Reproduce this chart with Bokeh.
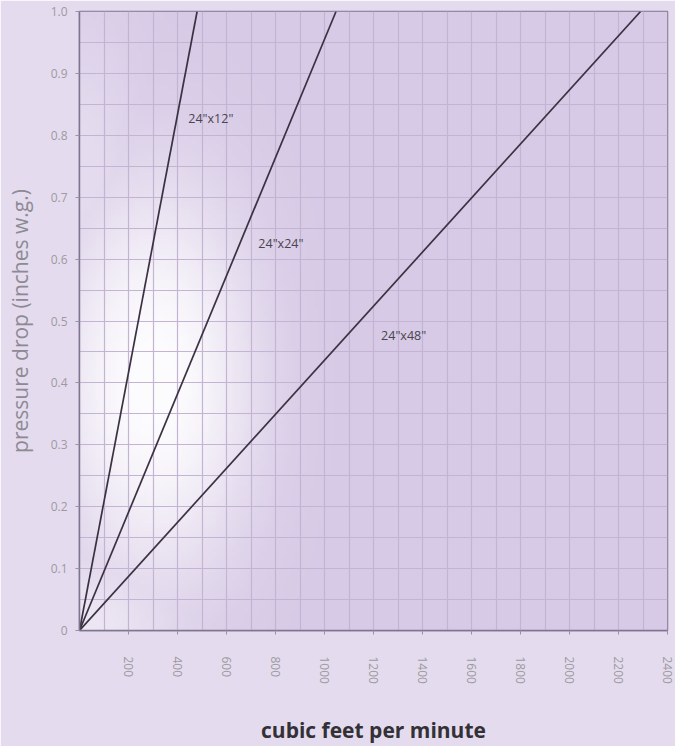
import numpy as np
from bokeh.plotting import figure
from bokeh.models import FixedTicker, Range1d, ColumnDataSource
from bokeh.embed import file_html
from bokeh.resources import INLINE
from bokeh.core.properties import value

# ---- data ----
cfm_24x12 = [0, 480]
cfm_24x24 = [0, 1047]
cfm_24x48 = [0, 2290]
pressure_drop = [0, 1.0]

series_names = ['24"x12"', '24"x24"', '24"x48"']
label_cfm = [444, 730, 1231]
label_pd = [0.827, 0.625, 0.477]

x_tick_values = [200, 400, 600, 800, 1000, 1200, 1400, 1600, 1800, 2000, 2200, 2400]
x_grid_values = list(range(0, 2401, 100))
y_tick_values = [0, 0.1, 0.2, 0.3, 0.4, 0.5, 0.6, 0.7, 0.8, 0.9, 1.0]
y_tick_labels = ["0", "0.1", "0.2", "0.3", "0.4", "0.5", "0.6", "0.7", "0.8", "0.9", "1.0"]
y_grid_values = [0, 0.05, 0.1, 0.15, 0.2, 0.25, 0.3, 0.35, 0.4, 0.45, 0.5,
                 0.55, 0.6, 0.65, 0.7, 0.75, 0.8, 0.85, 0.9, 0.95, 1.0]

X_MIN, X_MAX = 0, 2400
Y_MIN, Y_MAX = 0, 1.0

FONT = "Open Sans"
FRAME = "#7f7590"
GRID = "#c3b4d3"

p = figure(width=675, height=746, output_backend="svg", toolbar_location=None,
           x_range=Range1d(X_MIN, X_MAX), y_range=Range1d(Y_MIN, Y_MAX),
           min_border_left=79, min_border_right=8, min_border_top=11,
           min_border_bottom=116)

p.background_fill_color = "#d8cbe6"
p.border_fill_color = "#e4dcee"
p.outline_line_color = FRAME
p.outline_line_width = 1.5

# soft white "cloud" background inside the frame (decoration only)
ny, nx = 150, 150
gx = np.linspace(X_MIN, X_MAX, nx)
gy = np.linspace(Y_MIN, Y_MAX, ny)
GX, GY = np.meshgrid(gx, gy)
d = ((GX - 300) / 420) ** 2 + ((GY - 0.40) / 0.33) ** 2
w = np.exp(-d ** 1.2) * 0.95
d2 = ((GX - 0) / 450) ** 2 + ((GY - 0.0) / 0.14) ** 2
w = np.maximum(w, np.exp(-d2) * 0.55)
d3 = ((GX - 0) / 250) ** 2 + ((GY - 0.75) / 0.25) ** 2
w = np.maximum(w, np.exp(-d3) * 0.35)
base = np.array([215, 202, 230], dtype=float)
rgb = base[None, None, :] * (1 - w[..., None]) + 255 * w[..., None]
img = np.zeros((ny, nx), dtype=np.uint32)
view = img.view(dtype=np.uint8).reshape((ny, nx, 4))
view[..., 0] = rgb[..., 0].astype(np.uint8)
view[..., 1] = rgb[..., 1].astype(np.uint8)
view[..., 2] = rgb[..., 2].astype(np.uint8)
view[..., 3] = 255
p.image_rgba(image=[img], x=X_MIN, y=Y_MIN, dw=X_MAX - X_MIN, dh=Y_MAX - Y_MIN, level="image")

# grid
p.xgrid.ticker = FixedTicker(ticks=x_grid_values)
p.ygrid.ticker = FixedTicker(ticks=y_grid_values)
for g in (p.xgrid, p.ygrid):
    g.grid_line_color = GRID
    g.grid_line_width = 1.2

# lines
line_color = "#3b3142"
for xs in (cfm_24x12, cfm_24x24, cfm_24x48):
    p.line(xs, pressure_drop, line_color=line_color, line_width=1.7)

src = ColumnDataSource(dict(x=label_cfm, y=label_pd, t=series_names))
p.text(x="x", y="y", text="t", source=src, text_font=value(FONT),
       text_font_size="12.5px", text_color="#4a4450", text_align="left",
       text_baseline="middle")

# axes
p.xaxis.ticker = FixedTicker(ticks=x_tick_values)
p.yaxis.ticker = FixedTicker(ticks=y_tick_values)
p.yaxis.major_label_overrides = {v: l for v, l in zip(y_tick_values, y_tick_labels)}

for ax in (p.xaxis[0], p.yaxis[0]):
    ax.axis_line_color = FRAME
    ax.axis_line_width = 1.5
    ax.major_tick_line_color = "#9a93a3"
    ax.major_tick_in = 0
    ax.major_tick_out = 4
    ax.minor_tick_line_color = None
    ax.major_label_text_font = FONT
    ax.major_label_text_font_size = "12px"
    ax.major_label_text_color = "#9c9aa0"

p.xaxis.major_label_orientation = "vertical"
p.xaxis.major_label_standoff = 22
p.xaxis.axis_label = "cubic feet per minute"
p.xaxis.axis_label_text_font = FONT
p.xaxis.axis_label_text_font_style = "bold"
p.xaxis.axis_label_text_font_size = "21px"
p.xaxis.axis_label_text_color = "#333036"
p.xaxis.axis_label_standoff = 29

p.yaxis.major_label_standoff = 8
p.yaxis.axis_label = "pressure drop (inches w.g.)"
p.yaxis.axis_label_text_font = FONT
p.yaxis.axis_label_text_font_style = "normal"
p.yaxis.axis_label_text_font_size = "21px"
p.yaxis.axis_label_text_color = "#8e8a94"
p.yaxis.axis_label_standoff = 14

open("out.html", "w").write(file_html(p, INLINE))
